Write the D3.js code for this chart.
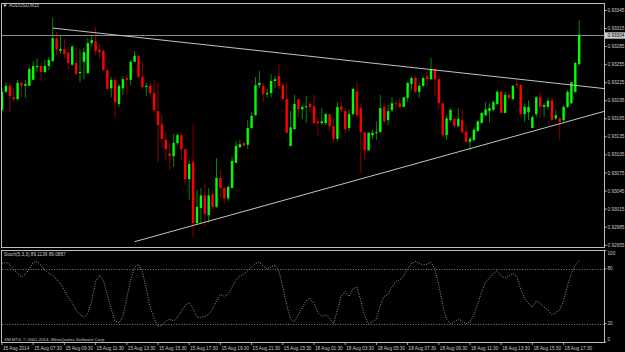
<!DOCTYPE html>
<html>
<head>
<meta charset="utf-8">
<script src="https://cdn.jsdelivr.net/npm/d3@7"></script>
<style>
body { margin: 0; background: #000; }
svg { display: block; }
text { font-family: "Liberation Sans", Arial, sans-serif; }
</style>
</head>
<body>
<div id="chart"></div>
<script>
let w = 625;
let h = 352;

// AUDUSD M15 candles, 15 Aug 05:30 .. 18 Aug 18:30
let open = [
0.93179,0.93209,0.93219,0.93200,0.93197,0.93224,0.93219,0.93219,0.93229,0.93250,
0.93252,0.93242,0.93252,0.93260,0.93298,0.93277,0.93280,0.93274,0.93254,0.93257,
0.93240,0.93259,0.93240,0.93290,0.93293,0.93279,0.93277,0.93245,0.93215,0.93229,
0.93189,0.93215,0.93232,0.93229,0.93259,0.93269,0.93234,0.93217,0.93219,0.93207,
0.93177,0.93155,0.93129,0.93107,0.93102,0.93124,0.93137,0.93114,0.93064,0.93092,
0.92991,0.93016,0.93037,0.93004,0.93039,0.93018,0.93066,0.93049,0.93032,0.93049,
0.93091,0.93117,0.93124,0.93121,0.93149,0.93170,0.93220,0.93219,0.93205,0.93207,
0.93227,0.93235,0.93220,0.93197,0.93119,0.93147,0.93197,0.93180,0.93184,0.93189,
0.93185,0.93160,0.93157,0.93157,0.93172,0.93152,0.93131,0.93185,0.93177,0.93149,
0.93172,0.93210,0.93182,0.93142,0.93112,0.93137,0.93141,0.93142,0.93184,0.93162,
0.93179,0.93190,0.93190,0.93184,0.93199,0.93222,0.93232,0.93209,0.93219,0.93235,
0.93230,0.93247,0.93230,0.93190,0.93137,0.93162,0.93164,0.93152,0.93162,0.93142,
0.93126,0.93129,0.93144,0.93157,0.93170,0.93177,0.93179,0.93189,0.93209,0.93174,
0.93204,0.93197,0.93222,0.93220,0.93172,0.93175,0.93149,0.93172,0.93200,0.93184,
0.93184,0.93195,0.93165,0.93165,0.93162,0.93184,0.93190,0.93209,0.93255];

let high = [
0.93215,0.93225,0.93225,0.93215,0.93229,0.93224,0.93229,0.93250,0.93260,0.93265,
0.93257,0.93262,0.93267,0.93332,0.93308,0.93302,0.93297,0.93284,0.93287,0.93282,
0.93280,0.93282,0.93298,0.93303,0.93317,0.93290,0.93279,0.93250,0.93234,0.93234,
0.93222,0.93235,0.93237,0.93262,0.93277,0.93270,0.93259,0.93224,0.93225,0.93229,
0.93225,0.93172,0.93141,0.93124,0.93139,0.93139,0.93141,0.93114,0.93094,0.93155,
0.93046,0.93049,0.93057,0.93049,0.93047,0.93099,0.93079,0.93052,0.93054,0.93101,
0.93127,0.93129,0.93127,0.93162,0.93175,0.93234,0.93244,0.93224,0.93214,0.93239,
0.93235,0.93255,0.93225,0.93225,0.93177,0.93204,0.93197,0.93187,0.93202,0.93192,
0.93204,0.93165,0.93182,0.93174,0.93172,0.93165,0.93192,0.93192,0.93182,0.93180,
0.93215,0.93224,0.93190,0.93142,0.93141,0.93146,0.93160,0.93204,0.93189,0.93187,
0.93200,0.93195,0.93199,0.93200,0.93224,0.93234,0.93235,0.93224,0.93235,0.93245,
0.93265,0.93247,0.93234,0.93190,0.93170,0.93182,0.93167,0.93182,0.93180,0.93154,
0.93134,0.93150,0.93162,0.93175,0.93192,0.93190,0.93195,0.93212,0.93212,0.93209,
0.93207,0.93220,0.93232,0.93222,0.93190,0.93195,0.93170,0.93202,0.93209,0.93190,
0.93199,0.93200,0.93179,0.93167,0.93187,0.93212,0.93225,0.93259,0.93328];

let low = [
0.93175,0.93207,0.93175,0.93192,0.93195,0.93200,0.93199,0.93219,0.93229,0.93242,
0.93227,0.93240,0.93245,0.93259,0.93270,0.93272,0.93265,0.93245,0.93252,0.93237,
0.93225,0.93229,0.93240,0.93285,0.93270,0.93265,0.93245,0.93212,0.93200,0.93167,
0.93184,0.93204,0.93204,0.93220,0.93259,0.93232,0.93215,0.93202,0.93200,0.93174,
0.93092,0.93116,0.93096,0.93079,0.93084,0.93121,0.93097,0.93054,0.93029,0.92968,
0.92988,0.92991,0.92986,0.92991,0.93013,0.93016,0.93034,0.93024,0.93028,0.93049,
0.93091,0.93116,0.93119,0.93114,0.93147,0.93170,0.93215,0.93192,0.93199,0.93200,
0.93215,0.93214,0.93195,0.93141,0.93119,0.93146,0.93167,0.93164,0.93157,0.93175,
0.93157,0.93137,0.93154,0.93154,0.93144,0.93124,0.93127,0.93175,0.93141,0.93144,
0.93170,0.93169,0.93074,0.93096,0.93111,0.93131,0.93129,0.93142,0.93157,0.93154,
0.93175,0.93177,0.93182,0.93184,0.93192,0.93212,0.93207,0.93199,0.93217,0.93217,
0.93229,0.93202,0.93179,0.93134,0.93129,0.93159,0.93149,0.93150,0.93141,0.93124,
0.93111,0.93126,0.93142,0.93157,0.93169,0.93159,0.93177,0.93187,0.93174,0.93174,
0.93195,0.93195,0.93215,0.93172,0.93159,0.93162,0.93149,0.93167,0.93165,0.93167,
0.93179,0.93162,0.93162,0.93129,0.93159,0.93182,0.93189,0.93207,0.93252];

let close = [
0.93209,0.93219,0.93202,0.93197,0.93224,0.93219,0.93222,0.93247,0.93252,0.93252,
0.93242,0.93252,0.93262,0.93298,0.93279,0.93280,0.93272,0.93257,0.93284,0.93239,
0.93242,0.93275,0.93290,0.93295,0.93277,0.93275,0.93245,0.93214,0.93229,0.93192,
0.93219,0.93230,0.93229,0.93259,0.93269,0.93234,0.93217,0.93219,0.93207,0.93179,
0.93154,0.93131,0.93114,0.93102,0.93124,0.93137,0.93114,0.93064,0.93089,0.92991,
0.93018,0.93037,0.93006,0.93037,0.93018,0.93066,0.93049,0.93032,0.93051,0.93094,
0.93119,0.93122,0.93119,0.93149,0.93169,0.93220,0.93224,0.93205,0.93207,0.93227,
0.93230,0.93219,0.93197,0.93141,0.93150,0.93189,0.93180,0.93184,0.93185,0.93184,
0.93157,0.93157,0.93160,0.93172,0.93152,0.93131,0.93184,0.93179,0.93147,0.93172,
0.93214,0.93170,0.93142,0.93112,0.93141,0.93141,0.93142,0.93182,0.93160,0.93177,
0.93190,0.93189,0.93184,0.93200,0.93224,0.93232,0.93209,0.93219,0.93232,0.93230,
0.93247,0.93230,0.93190,0.93137,0.93165,0.93179,0.93152,0.93164,0.93142,0.93126,
0.93131,0.93146,0.93160,0.93174,0.93180,0.93182,0.93192,0.93209,0.93174,0.93204,
0.93199,0.93219,0.93220,0.93172,0.93184,0.93184,0.93167,0.93200,0.93184,0.93187,
0.93194,0.93162,0.93170,0.93159,0.93184,0.93209,0.93225,0.93257,0.93304];

// Stoch(5,3,3) main line
let stoch = [
86,87,85,79,75,71,74,80,87,88,
84,78,75,73,68,64,56,49,43,35,
30,27,31,45,66,73,67,52,36,23,
21,28,48,68,82,85,77,58,38,26,
17,18,23,25,23,27,34,40,43,36,
27,27,28,30,36,45,52,50,52,60,
68,72,74,78,82,86,87,83,80,82,
84,78,60,40,25,22,30,38,45,48,
42,32,28,30,26,20,35,50,55,50,
58,60,45,28,20,22,25,40,50,52,
60,66,68,72,80,86,88,86,84,85,
87,80,62,40,25,20,22,25,23,20,
22,30,42,55,65,70,75,78,72,70,
72,75,72,58,48,42,38,45,42,38,
35,30,32,35,45,62,75,84,89];

let priceTicks = [0.93345,0.93315,0.93285,0.93255,0.93225,0.93195,0.93165,0.93135,0.93105,0.93075,0.93045,0.93015,0.92985,0.92955];
let stochLevels = [80, 20];
let stochTicks = [100, 80, 20, 0];
let timeLabels = ["15 Aug 2014","15 Aug 07:30","15 Aug 09:30","15 Aug 11:30","15 Aug 13:30","15 Aug 15:30","15 Aug 17:30","15 Aug 19:30","15 Aug 21:30","15 Aug 23:30","18 Aug 01:30","18 Aug 03:30","18 Aug 05:30","18 Aug 07:30","18 Aug 09:30","18 Aug 11:30","18 Aug 13:30","18 Aug 15:30","18 Aug 17:30"];
let barsPerLabel = 8;

// trend lines: [bar, price] anchors, drawn as rays to the right edge
let upperTrend = [[13, 0.93315], [148, 0.93219]];
let lowerTrend = [[34, 0.92960], [148, 0.93165]];

let left = 2, right = 604;
let mainTop = 3.5, mainBottom = 247.5;
let subTop = 250.5, subBottom = 342.5;
let fg = "#c8c8c8";
let fontSize = 4.7;

let svg = d3.select("#chart").append("svg")
    .attr("width", w)
    .attr("height", h)
    .style("background-color", "#000");

let x = d3.scaleLinear().domain([0, 148]).range([2, 2 + 3.9 * 148]);
let y = d3.scaleLinear().domain([0.92955, 0.93345]).range([244.7, 10]);
let ys = d3.scaleLinear().domain([0, 100]).range([342, 250.5]);
let lastBar = x.invert(right);

// frames
svg.append("rect").attr("x", 1.5).attr("y", mainTop).attr("width", right - 1.5 + 0.5).attr("height", mainBottom - mainTop)
    .attr("fill", "none").attr("stroke", "#bdbdbd").attr("stroke-width", 1);
svg.append("rect").attr("x", 1.5).attr("y", subTop).attr("width", right - 1.5 + 0.5).attr("height", subBottom - subTop)
    .attr("fill", "none").attr("stroke", "#bdbdbd").attr("stroke-width", 1);

let data = open.map(function(o, i){
    return {i: i, o: o, h: high[i], l: low[i], c: close[i]};
});

svg.append("clipPath").attr("id", "clipMain").append("rect")
    .attr("x", 2).attr("y", 4).attr("width", right - 2).attr("height", mainBottom - 4.5);

let plot = svg.append("g").attr("clip-path", "url(#clipMain)");

// current price line
let bidY = Math.round(y(close[close.length - 1])) + 0.5;
plot.append("line")
    .attr("x1", left).attr("x2", right)
    .attr("y1", bidY).attr("y2", bidY)
    .attr("stroke", "#8a8a8a").attr("stroke-width", 1);

// candles
let candle = plot.append("g").selectAll("g").data(data).join("g");
candle.append("line")
    .attr("x1", d => x(d.i)).attr("x2", d => x(d.i))
    .attr("y1", d => y(d.h)).attr("y2", d => y(d.l))
    .attr("stroke", d => d.c >= d.o ? "#00ff00" : "#ff0000")
    .attr("stroke-opacity", 0.6)
    .attr("stroke-width", 0.9);
candle.append("rect")
    .attr("x", d => x(d.i) - 1.2)
    .attr("width", 2.4)
    .attr("y", d => y(Math.max(d.o, d.c)))
    .attr("height", d => Math.max(1, y(Math.min(d.o, d.c)) - y(Math.max(d.o, d.c))))
    .attr("fill", d => d.c >= d.o ? "#00ff00" : "#ff0000");

// trend lines
[upperTrend, lowerTrend].forEach(function(t){
    let slope = (t[1][1] - t[0][1]) / (t[1][0] - t[0][0]);
    plot.append("line")
        .attr("x1", x(t[0][0])).attr("y1", y(t[0][1]))
        .attr("x2", x(lastBar)).attr("y2", y(t[0][1] + slope * (lastBar - t[0][0])))
        .attr("stroke", "#c4c4c4").attr("stroke-width", 1);
});

// price axis
let pAxis = svg.append("g").attr("transform", "translate(" + (right + 0.5) + ",0)")
    .call(d3.axisRight(y).tickValues(priceTicks).tickSize(2).tickFormat(d3.format(".5f")));
pAxis.select(".domain").remove();
pAxis.selectAll("line").attr("stroke", fg);
pAxis.selectAll("text").attr("fill", fg).attr("font-size", fontSize).attr("x", 3)
    .attr("font-family", "'Liberation Sans', Arial, sans-serif");

// bid label
svg.append("rect").attr("x", right + 1).attr("y", bidY - 3.2).attr("width", 20).attr("height", 6.4).attr("fill", "#d0d0d0");
svg.append("text").attr("x", right + 3.5).attr("y", bidY).attr("dy", "0.35em")
    .attr("font-size", fontSize).attr("fill", "#000").text(d3.format(".5f")(close[close.length - 1]));

// title
svg.append("path").attr("d", "M3,4.5 L7,4.5 L5,7 Z").attr("fill", fg);
svg.append("text").attr("x", 9).attr("y", 7.2).attr("font-size", fontSize).attr("fill", fg).text("AUDUSD,M15");

// stochastic panel
let sub = svg.append("g");
sub.selectAll(".lvl").data(stochLevels).join("line")
    .attr("x1", left).attr("x2", right)
    .attr("y1", d => Math.round(ys(d)) + 0.5).attr("y2", d => Math.round(ys(d)) + 0.5)
    .attr("stroke", "#9a9a9a").attr("stroke-width", 0.8).attr("stroke-dasharray", "1,1.6");
sub.append("path")
    .datum(stoch)
    .attr("d", d3.line().x((d, i) => x(i)).y(d => ys(d)))
    .attr("fill", "none").attr("stroke", "#b4b4b4").attr("stroke-width", 0.8).attr("stroke-dasharray", "1,1.4");

sub.selectAll(".st").data(stochTicks).join("text")
    .attr("x", right + 3.5)
    .attr("y", d => Math.min(339.5, Math.max(253.5, ys(d))))
    .attr("dy", "0.35em").attr("font-size", fontSize).attr("fill", fg)
    .text(d => d);
sub.selectAll(".stt").data(stochTicks).join("line")
    .attr("x1", right + 0.5).attr("x2", right + 2.5)
    .attr("y1", d => ys(d)).attr("y2", d => ys(d))
    .attr("stroke", fg).attr("stroke-width", 0.8);

svg.append("text").attr("x", 4).attr("y", 255.5).attr("font-size", fontSize).attr("fill", fg)
    .text("Stoch(5,3,3) " + "89.1139" + " " + "89.0887");
svg.append("text").attr("x", 4).attr("y", 341).attr("font-size", fontSize - 0.3).attr("fill", fg)
    .text("XM MT4, \u00a9 2001-2014, MetaQuotes Software Corp.");

// time axis
let tAxis = svg.append("g");
tAxis.selectAll("line").data(timeLabels).join("line")
    .attr("x1", (d, k) => x(k * barsPerLabel)).attr("x2", (d, k) => x(k * barsPerLabel))
    .attr("y1", subBottom).attr("y2", subBottom + 2.5)
    .attr("stroke", fg).attr("stroke-width", 0.8);
tAxis.selectAll("text").data(timeLabels).join("text")
    .attr("x", (d, k) => x(k * barsPerLabel) + 1)
    .attr("y", 349.5)
    .attr("font-size", fontSize).attr("fill", fg)
    .text(d => d);
</script>
</body>
</html>
